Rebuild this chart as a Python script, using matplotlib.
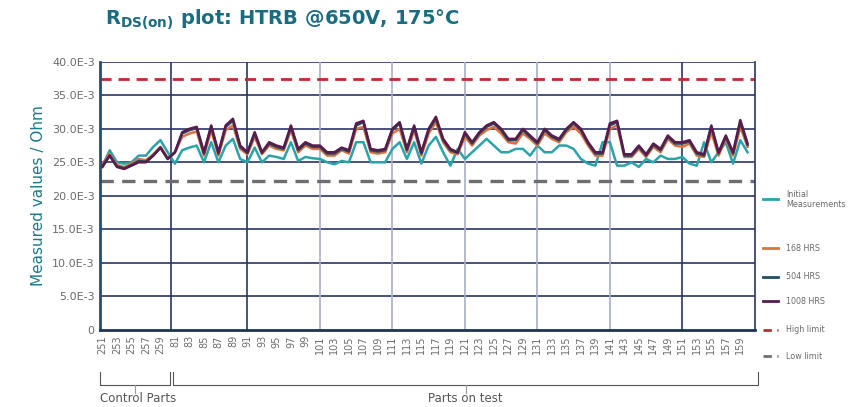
import matplotlib
matplotlib.use("Agg")
import matplotlib.pyplot as plt
from matplotlib.lines import Line2D
from matplotlib.transforms import blended_transform_factory

# parts: 10 control parts (251-260) then parts on test (81-160)
parts = list(range(251, 261)) + list(range(81, 161))

# values in E-3 Ohm
initial = [24.5, 26.8, 25.0, 24.8, 25.0, 26.0, 26.0, 27.3, 28.3, 26.5,
           24.8, 26.8, 27.2, 27.5, 25.0, 28.0, 25.0, 27.5, 28.5, 25.5,
           25.0, 27.2, 25.0, 26.0, 25.8, 25.5, 28.0, 25.2, 25.8, 25.6,
           25.5, 25.0, 24.7, 25.2, 25.0, 28.0, 28.0, 25.0, 25.0, 25.0,
           27.0, 28.0, 25.5, 28.0, 24.8, 27.5, 28.8, 26.5, 24.5, 27.0,
           25.5, 26.5, 27.5, 28.5, 27.5, 26.5, 26.5, 27.0, 27.0, 26.0,
           27.5, 26.5, 26.5, 27.5, 27.5, 27.0, 25.5, 24.8, 24.5, 28.0,
           28.0, 24.5, 24.5, 25.0, 24.3, 25.5, 25.0, 26.0, 25.5, 25.5,
           25.8, 24.8, 24.5, 28.0, 25.0, 26.5, 28.0, 24.8, 28.3, 26.5]
hrs168 = [24.8, 26.2, 24.6, 24.3, 24.8, 25.5, 25.3, 26.2, 27.3, 25.6,
          26.5, 28.8, 29.3, 29.6, 26.0, 29.8, 26.0, 29.8, 30.5, 27.0,
          26.2, 28.8, 26.2, 27.5, 27.0, 26.8, 29.8, 26.5, 27.5, 27.0,
          27.0, 26.0, 26.0, 26.8, 26.3, 30.0, 30.3, 26.5, 26.3, 26.5,
          29.3, 30.0, 26.5, 29.8, 26.0, 29.3, 31.0, 28.0, 26.5, 26.2,
          28.8, 27.5, 29.0, 29.8, 30.3, 29.3, 28.0, 27.8, 29.3, 28.5,
          27.5, 29.3, 28.5, 28.0, 29.5, 30.3, 29.3, 27.5, 26.0, 26.0,
          30.0, 30.5, 25.8, 25.8, 27.0, 25.8, 27.3, 26.5, 28.5, 27.5,
          27.3, 27.8, 26.0, 25.8, 29.5, 26.0, 28.5, 26.0, 30.3, 27.3]
hrs504 = [24.5, 26.0, 24.4, 24.1, 24.6, 25.2, 25.1, 26.0, 27.2, 25.5,
          26.5, 29.3, 29.8, 30.1, 26.3, 30.3, 26.3, 30.3, 31.2, 27.3,
          26.4, 29.3, 26.4, 27.8, 27.3, 27.0, 30.3, 26.8, 27.8, 27.3,
          27.3, 26.3, 26.3, 27.0, 26.6, 30.5, 31.0, 26.8, 26.6, 26.8,
          29.8, 30.8, 26.8, 30.3, 26.3, 29.8, 31.5, 28.3, 26.8, 26.4,
          29.3, 27.8, 29.3, 30.3, 30.8, 29.8, 28.3, 28.3, 29.8, 28.8,
          27.8, 29.8, 28.8, 28.3, 29.8, 30.8, 29.8, 27.8, 26.3, 26.3,
          30.5, 31.0, 26.0, 26.0, 27.3, 26.0, 27.6, 26.8, 28.8, 27.8,
          27.8, 28.1, 26.3, 26.0, 30.3, 26.3, 28.8, 26.3, 31.0, 27.6]
hrs1008 = [24.3, 26.0, 24.3, 24.0, 24.5, 25.0, 25.0, 26.0, 27.2, 25.5,
           26.5, 29.5, 30.0, 30.3, 26.5, 30.5, 26.5, 30.5, 31.5, 27.5,
           26.5, 29.5, 26.5, 28.0, 27.5, 27.2, 30.5, 27.0, 28.0, 27.5,
           27.5, 26.5, 26.5, 27.2, 26.8, 30.8, 31.2, 27.0, 26.8, 27.0,
           30.0, 31.0, 27.0, 30.5, 26.5, 30.0, 31.8, 28.5, 27.0, 26.5,
           29.5, 28.0, 29.5, 30.5, 31.0, 30.0, 28.5, 28.5, 30.0, 29.0,
           28.0, 30.0, 29.0, 28.5, 30.0, 31.0, 30.0, 28.0, 26.5, 26.5,
           30.8, 31.2, 26.2, 26.2, 27.5, 26.2, 27.8, 27.0, 29.0, 28.0,
           28.0, 28.3, 26.5, 26.2, 30.5, 26.5, 29.0, 26.5, 31.3, 27.8]
high_limit = 37.5
low_limit = 22.2

series = [("Initial\nMeasurements", initial, "#2aa3aa"),
          ("168 HRS", hrs168, "#e2703f"),
          ("504 HRS", hrs504, "#1f4f60"),
          ("1008 HRS", hrs1008, "#5a1b4c")]

navy = "#2b3566"
light = "#a9aec8"
grey = "#6b6b6b"

fig = plt.figure(figsize=(8.5, 4.07), dpi=100)
ax = fig.add_axes([0.118, 0.19, 0.77, 0.658])

x = list(range(len(parts)))
for label, vals, col in series:
    ax.plot(x, [v * 1e-3 for v in vals], color=col, lw=1.8)
ax.axhline(high_limit * 1e-3, color="#c42a2f", ls=(0, (4, 2.5)), lw=2)
ax.axhline(low_limit * 1e-3, color="#6e6e6e", ls=(0, (4, 2.5)), lw=2.4)

ax.set_xlim(-0.3, 90)
ax.set_ylim(0, 40e-3)
yt = [i * 5e-3 for i in range(9)]
ax.set_yticks(yt)
ax.set_yticklabels(["0"] + ["%.1fE-3" % (t * 1e3) for t in yt[1:]],
                   color=grey, fontsize=8)
for t in yt[1:]:
    ax.axhline(t, color=navy, lw=1.2, zorder=0)
for v in [9.5, 20, 80]:
    ax.axvline(v, color=navy, lw=1.2, zorder=0)
for v in [30, 40, 50, 60, 70]:
    ax.axvline(v, color=light, lw=1.2, zorder=0)

ax.set_xticks(x[::2])
ax.set_xticklabels([str(p) for p in parts[::2]], rotation=90,
                   color=grey, fontsize=7)
ax.tick_params(length=0, pad=4)
ax.spines["top"].set_visible(False)
ax.spines["left"].set_color("#1d4f78")
ax.spines["left"].set_linewidth(2)
ax.spines["bottom"].set_color("#1d3550")
ax.spines["bottom"].set_linewidth(2)
ax.spines["right"].set_color(navy)
ax.spines["right"].set_linewidth(1.2)
ax.set_ylabel("Measured values / Ohm", color="#1a7a8c", fontsize=11)

fig.text(0.123, 0.95, r"R$_{\mathbf{DS(on)}}$ plot: HTRB @650V, 175°C",
         color="#1b6c80", fontsize=14, fontweight="bold", va="center")

# legend on the right
legend_y = [0.51, 0.39, 0.32, 0.26, 0.19, 0.125]
items = series + [("High limit", None, "#c42a2f"), ("Low limit", None, "#6e6e6e")]
for (label, vals, col), yy in zip(items, legend_y):
    ls = "-" if vals is not None else (0, (3, 2))
    fig.add_artist(Line2D([0.898, 0.915], [yy, yy], color=col, lw=2, ls=ls,
                          transform=fig.transFigure))
    fig.text(0.925, yy, label, fontsize=5.8, color=grey, va="center")

# group brackets under the axis
tr = blended_transform_factory(ax.transData, fig.transFigure)
for x0, x1, name in [(-0.3, 9.3, "Control Parts"), (9.7, 90.5, "Parts on test")]:
    ax.add_line(Line2D([x0, x0, x1, x1], [0.085, 0.055, 0.055, 0.085],
                       color="#555555", lw=0.8, transform=tr, clip_on=False))
    mid = (x0 + x1) / 2
    ax.add_line(Line2D([mid, mid], [0.055, 0.035], color="#999999", lw=0.8,
                       transform=tr, clip_on=False))
    tx = -0.3 if name == "Control Parts" else mid
    ha = "left" if name == "Control Parts" else "center"
    ax.text(tx, 0.005, name, transform=tr, ha=ha, va="bottom",
            fontsize=8.5, color="#555555")

fig.savefig("out.png", dpi=100)
